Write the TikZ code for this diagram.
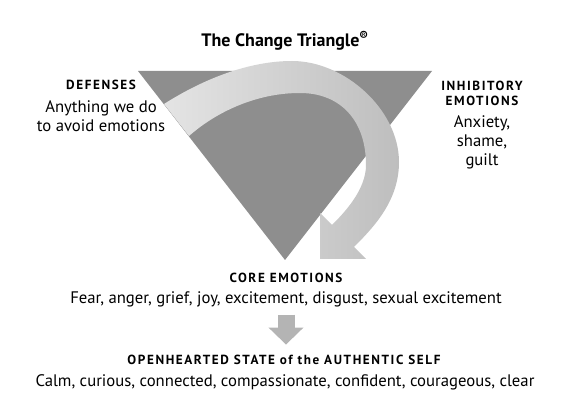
\documentclass[tikz,border=0pt]{standalone}
\usepackage{fontspec}
\setmainfont{PT Sans}
\newfontfamily\headfont[LetterSpace=12]{PT Sans}
\usetikzlibrary{arrows.meta}
\definecolor{trigray}{RGB}{142,142,142}
\definecolor{bandlight}{RGB}{228,228,228}
\definecolor{banddark}{RGB}{190,190,190}
\definecolor{arrowgray}{RGB}{180,180,180}

\begin{document}
\begin{tikzpicture}[x=1pt,y=-1pt]

\tikzstyle{body} = [inner sep=0, outer sep=0, anchor=base, font=\fontsize{16.7}{19}\selectfont]
\tikzstyle{head_caps} = [inner sep=0, outer sep=0, anchor=base, font=\fontsize{13.2}{15}\headfont\bfseries]
\tikzstyle{title} = [inner sep=0, outer sep=0, anchor=base, font=\fontsize{18}{20}\selectfont\bfseries]
\tikzstyle{band} = [left color=bandlight, right color=banddark]
\tikzstyle{down_arrow} = [draw=arrowgray, line width=17pt, -{Triangle[width=34pt,length=17pt]},
shorten <=7pt, shorten >=11pt]

\useasboundingbox (0,0) rectangle (574,406);

% the triangle
\coordinate (defpt) at (138,71);
\coordinate (inhpt) at (432,71);
\coordinate (corept) at (285,260);
\fill[trigray] (defpt) -- (inhpt) -- (corept) -- cycle;

% the curved arrow
\path[band] (164,104) .. controls (205,78) and (250,61) .. (292,61)
 .. controls (345,61) and (399,110) .. (399,162)
 .. controls (399,200) and (375,226) .. (354,247)
 -- (366,259) -- (320,259) -- (320,213) -- (332,225)
 .. controls (344,213) and (366,190) .. (366,165)
 .. controls (366,120) and (340,93) .. (300,93)
 .. controls (255,93) and (215,113) .. (189,136) -- cycle;

\node[title] (title) at (285,47) {The Change Triangle\textsuperscript{®}};

\node[body] (defenses) at (101,90) {\begin{tabular}[t]{@{}c@{}} {\headfont\bfseries\fontsize{13.2}{15}\selectfont DEFENSES}\\[4pt]
Anything we do\\ to avoid emotions\end{tabular}};

\node[body] (inhibit) at (482,91) {\begin{tabular}[t]{@{}c@{}} {\headfont\bfseries\fontsize{13.2}{15}\selectfont INHIBITORY}\\[-4pt]
{\headfont\bfseries\fontsize{13.2}{15}\selectfont EMOTIONS}\\[3pt]
Anxiety,\\ shame,\\ guilt\end{tabular}};

\node[head_caps] (core) at (286,283) {CORE EMOTIONS};
\node[body] (fear) at (286,304) {Fear, anger, grief, joy, excitement, disgust, sexual excitement};

\node[head_caps] (open) at (284,365) {OPENHEARTED STATE of the AUTHENTIC SELF};
\node[body] (calm) at (285,387) {Calm, curious, connected, compassionate, confident, courageous, clear};

\draw[down_arrow] (fear.south) -- (fear.south |- open.north);

\end{tikzpicture}
\end{document}
